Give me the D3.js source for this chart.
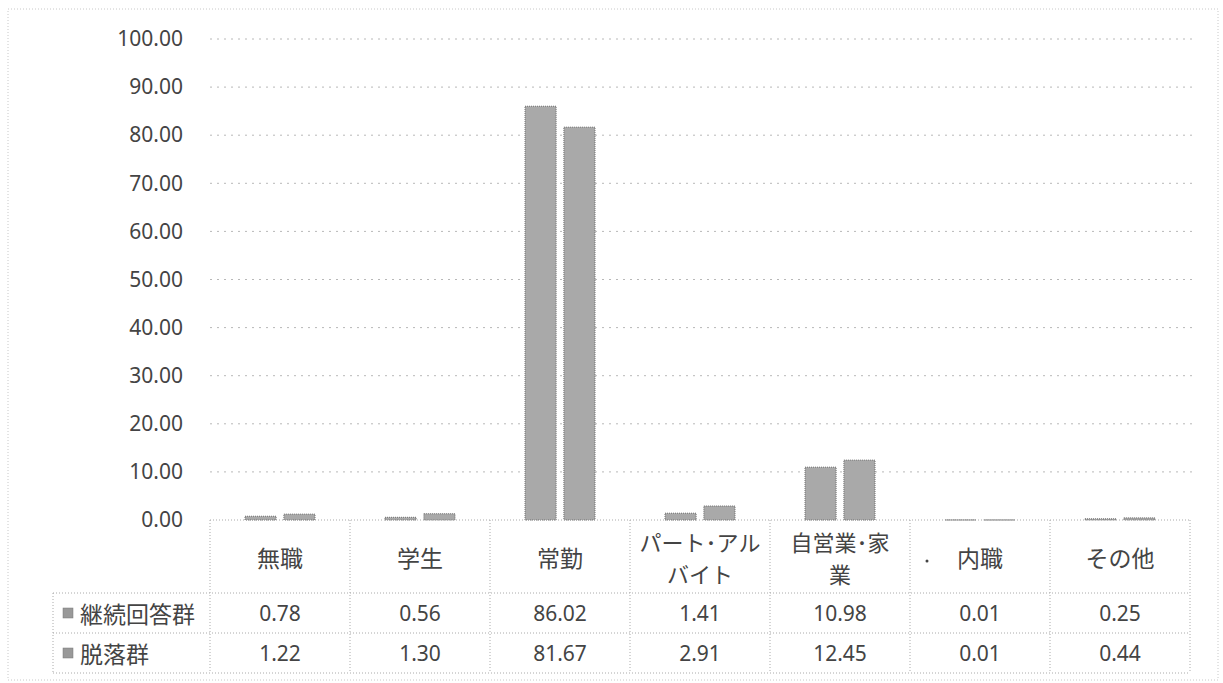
<!DOCTYPE html>
<html><head><meta charset="utf-8">
<script src="https://cdn.jsdelivr.net/npm/d3@7"></script>
<style>
html,body{margin:0;padding:0;background:#fff;}
svg{display:block;}
text{font-family:"Noto Sans CJK JP","Noto Sans",sans-serif;fill:#444;}
</style></head>
<body>
<svg id="chart" width="1223" height="683"></svg>
<script>
const categories = [["無職"],["学生"],["常勤"],["パート･アル","バイト"],["自営業･家","業"],["内職"],["その他"]];
const seriesNames = ["継続回答群","脱落群"];
const continuing = [0.78,0.56,86.02,1.41,10.98,0.01,0.25];
const dropout = [1.22,1.30,81.67,2.91,12.45,0.01,0.44];
const yTicks = [0,10,20,30,40,50,60,70,80,90,100];

(function(){
const series = [continuing, dropout];
const svg = d3.select("#chart");
const pLeft = 210, pRight = 1190, pTop = 39, pBottom = 520;
const rowTops = [520, 593, 633, 673];
const legendLeft = 53;

const catIdx = d3.range(categories.length);
const x0 = d3.scaleBand().domain(catIdx).range([pLeft, pRight]).padding(0);
const x1 = d3.scaleBand().domain([0,1]).range([35, 105]).paddingInner(0.2);
const y = d3.scaleLinear().domain([0,100]).range([pBottom, pTop]);

// outer frame
svg.append("rect").attr("x",8).attr("y",9).attr("width",1210).attr("height",671)
  .attr("fill","none").attr("stroke","#c8c8c8").attr("stroke-dasharray","1,2");

// gridlines
svg.append("g").selectAll("line").data(yTicks.filter(d=>d>0)).join("line")
  .attr("x1",pLeft).attr("x2",pRight+3).attr("y1",d=>y(d)).attr("y2",d=>y(d))
  .attr("stroke","#b8b8b8").attr("stroke-dasharray","2,5");

// y axis labels
const yAxis = d3.axisLeft(y).tickValues(yTicks).tickFormat(d=>d.toFixed(2)).tickSize(0).tickPadding(0);
const yg = svg.append("g").attr("transform","translate(183,0)").call(yAxis);
yg.select(".domain").remove();
yg.selectAll("text").attr("font-size",21).attr("fill","#444")
  .style("font-family",'"Noto Sans","Open Sans",sans-serif');

// bars
const g = svg.append("g");
series.forEach((vals, s) => {
  g.selectAll(".bar"+s).data(vals).join("rect").attr("class","bar"+s)
    .attr("x",(d,i)=>x0(i)+x1(s)).attr("width",x1.bandwidth())
    .attr("y",d=>y(d)).attr("height",d=>pBottom - y(d))
    .attr("fill","#a9a9a9").attr("stroke","#6e6e6e").attr("stroke-width",1)
    .attr("stroke-dasharray","1,1");
});

// table lines
const tl = svg.append("g").attr("stroke","#aaa").attr("stroke-dasharray","1,2").attr("fill","none");
tl.append("line").attr("x1",pLeft).attr("x2",pRight).attr("y1",pBottom).attr("y2",pBottom);
rowTops.slice(1).forEach(r=>tl.append("line").attr("x1",legendLeft).attr("x2",pRight).attr("y1",r).attr("y2",r));
catIdx.concat([categories.length]).forEach(i=>{
  const xx = i<categories.length ? x0(i) : pRight;
  tl.append("line").attr("x1",xx).attr("x2",xx).attr("y1",pBottom).attr("y2",rowTops[3]);
});
tl.append("line").attr("x1",legendLeft).attr("x2",legendLeft).attr("y1",rowTops[1]).attr("y2",rowTops[3]);

// category labels (one text element per cell, lines as tspans)
const cx = i => x0(i) + x0.bandwidth()/2;
categories.forEach((lines, i) => {
  const mid = 557;
  const multi = lines.length > 1;
  const lh = 32;
  const t = svg.append("text").attr("text-anchor","middle").attr("font-size", multi ? 22 : 23);
  lines.forEach((ln, j) => {
    t.append("tspan").attr("x",cx(i))
      .attr("y", mid + (j - (lines.length-1)/2)*lh)
      .attr("dominant-baseline","central").text(ln);
  });
});
// stray dot near 内職 in the source
svg.append("circle").attr("cx",927).attr("cy",561).attr("r",1.5).attr("fill","#444");

// data rows
series.forEach((vals, s) => {
  const cy = (rowTops[s+1] + rowTops[s+2]) / 2;
  svg.append("rect").attr("x",63).attr("y",cy-5).attr("width",10).attr("height",10)
    .attr("fill","#999").attr("stroke","#777").attr("stroke-width",0.5);
  svg.append("text").attr("x",80).attr("y",cy).attr("dominant-baseline","central")
    .attr("font-size",23).text(seriesNames[s]);
  svg.append("g").selectAll("text").data(vals).join("text")
    .attr("x",(d,i)=>cx(i)).attr("y",cy).attr("text-anchor","middle").attr("dominant-baseline","central")
    .attr("font-size",21).style("font-family",'"Noto Sans","Open Sans",sans-serif')
    .text(d=>d.toFixed(2));
});
})();
</script>
</body></html>
